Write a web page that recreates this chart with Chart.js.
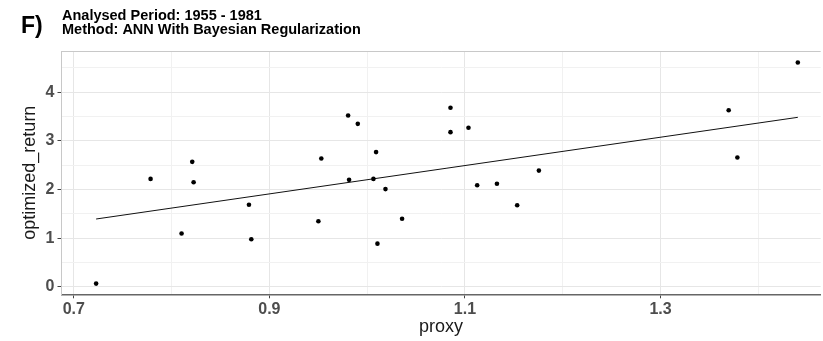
<!DOCTYPE html>
<html>
<head>
<meta charset="utf-8">
<script src="https://cdn.jsdelivr.net/npm/chart.js@4"></script>
<style>
html,body{margin:0;padding:0;background:#fff;}
#wrap{width:823px;height:341px;position:relative;}
</style>
</head>
<body>
<div id="wrap"><canvas id="c" width="823" height="341"></canvas></div>
<script>
// Data
const proxy = [0.7228, 0.7785, 0.8102, 0.8211, 0.8225, 0.8791, 0.8815, 0.9501, 0.9531, 0.9805,
  0.9815, 0.9904, 1.0091, 1.0064, 1.0187, 1.0105, 1.0357, 1.0852, 1.0852, 1.1036,
  1.1125, 1.1327, 1.1534, 1.1756, 1.3697, 1.3786, 1.4404];
const optimizedReturn = [0.07, 2.22, 1.10, 2.57, 2.15, 1.69, 0.98, 1.35, 2.64, 3.52,
  2.20, 3.35, 2.77, 2.22, 2.01, 0.89, 1.40, 3.68, 3.18, 3.27,
  2.09, 2.12, 1.68, 2.39, 3.63, 2.66, 4.61];
const fitProxy = [0.7228, 1.4404];
const fitReturn = [1.396, 3.484];
const xMajorTicks = [0.7, 0.9, 1.1, 1.3];
const xMinorTicks = [0.8, 1.0, 1.2, 1.4];
const yMajorTicks = [0, 1, 2, 3, 4];
const yMinorTicks = [0.5, 1.5, 2.5, 3.5, 4.5];
const titleTag = "F)";
const titleLines = ["Analysed Period: 1955 - 1981", "Method: ANN With Bayesian Regularization"];
const xTitle = "proxy";
const yTitle = "optimized_return";

const isMajor = (v, majors) => majors.some(m => Math.abs(m - v) < 1e-9);

const titlePlugin = {
  id: 'titles',
  afterDraw(chart) {
    const ctx = chart.ctx;
    const a = chart.chartArea;
    ctx.save();
    // top panel border
    ctx.strokeStyle = '#c8c8c8';
    ctx.lineWidth = 1;
    ctx.beginPath();
    ctx.moveTo(a.left, a.top + 0.5);
    ctx.lineTo(a.right, a.top + 0.5);
    ctx.stroke();
    ctx.fillStyle = '#000';
    ctx.textBaseline = 'alphabetic';
    ctx.textAlign = 'left';
    ctx.font = 'bold 23px "Liberation Sans", Arial, sans-serif';
    ctx.fillText(titleTag, 21, 33);
    ctx.font = 'bold 14.5px "Liberation Sans", Arial, sans-serif';
    ctx.fillText(titleLines[0], 62, 20);
    ctx.fillText(titleLines[1], 62, 34);
    ctx.restore();
  }
};

new Chart(document.getElementById('c'), {
  type: 'scatter',
  data: {
    datasets: [
      {
        label: 'points',
        data: proxy.map((x, i) => ({x: x, y: optimizedReturn[i]})),
        backgroundColor: '#000',
        borderColor: '#000',
        pointRadius: 2.3,
        pointHoverRadius: 2.3,
        borderWidth: 0
      },
      {
        label: 'fit',
        data: fitProxy.map((x, i) => ({x: x, y: fitReturn[i]})),
        showLine: true,
        borderColor: '#111',
        borderWidth: 1,
        pointRadius: 0,
        fill: false
      }
    ]
  },
  options: {
    responsive: false,
    animation: false,
    events: [],
    layout: {padding: {top: 51, left: 0, right: 0, bottom: 0}},
    plugins: {legend: {display: false}, tooltip: {enabled: false}, title: {display: false}},
    scales: {
      x: {
        type: 'linear',
        min: 0.6874,
        max: 1.4638,
        afterBuildTicks(scale) {
          scale.ticks = xMajorTicks.concat(xMinorTicks).sort((a, b) => a - b).map(v => ({value: v}));
        },
        afterFit(scale) { scale.height = 46.7; },
        ticks: {
          autoSkip: false,
          maxRotation: 0,
          padding: 2,
          color: '#4d4d4d',
          font: {family: '"Liberation Sans", Arial, sans-serif', size: 16, weight: 'bold'},
          callback: (v) => isMajor(v, xMajorTicks) ? v.toFixed(1) : ''
        },
        grid: {
          color: (c) => isMajor(c.tick.value, xMajorTicks) ? '#e6e6e6' : '#f1f1f1',
          lineWidth: 1,
          tickLength: 4,
          tickColor: (c) => isMajor(c.tick.value, xMajorTicks) ? '#444' : 'rgba(0,0,0,0)'
        },
        border: {display: true, color: '#666', width: 1.5},
        title: {
          display: true,
          text: xTitle,
          color: '#1a1a1a',
          font: {family: '"Liberation Sans", Arial, sans-serif', size: 18},
          padding: {top: 0, bottom: 3}
        }
      },
      y: {
        type: 'linear',
        min: -0.15,
        max: 4.846,
        afterBuildTicks(scale) {
          scale.ticks = yMajorTicks.concat(yMinorTicks).sort((a, b) => a - b).map(v => ({value: v}));
        },
        afterFit(scale) { scale.width = 61.5; },
        ticks: {
          autoSkip: false,
          padding: 3,
          color: '#4d4d4d',
          font: {family: '"Liberation Sans", Arial, sans-serif', size: 16, weight: 'bold'},
          callback: (v) => isMajor(v, yMajorTicks) ? String(v) : ''
        },
        grid: {
          color: (c) => isMajor(c.tick.value, yMajorTicks) ? '#e6e6e6' : '#f1f1f1',
          lineWidth: 1,
          tickLength: 4,
          tickColor: (c) => isMajor(c.tick.value, yMajorTicks) ? '#444' : 'rgba(0,0,0,0)'
        },
        border: {display: true, color: '#c8c8c8', width: 1},
        title: {
          display: true,
          text: yTitle,
          color: '#1a1a1a',
          font: {family: '"Liberation Sans", Arial, sans-serif', size: 18},
          padding: {top: 19, bottom: 0}
        }
      }
    }
  },
  plugins: [titlePlugin]
});
</script>
</body>
</html>
